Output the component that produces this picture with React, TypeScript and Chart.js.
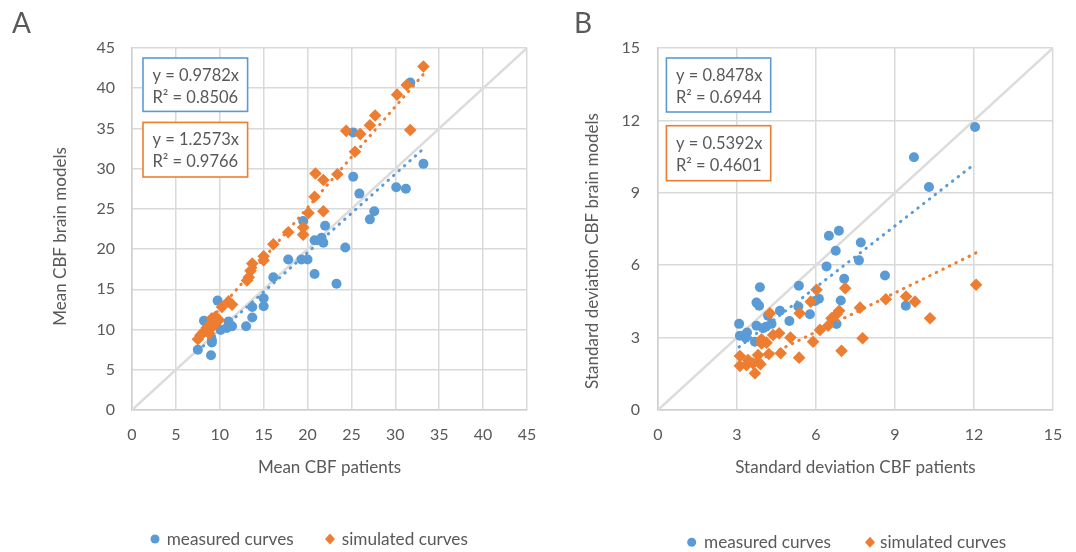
import React, { useEffect, useRef } from "react";
import { Chart, registerables } from "chart.js";

Chart.register(...registerables);

const FONT_FAMILY = "Lato, 'Open Sans', sans-serif";
const TEXT = "#595959";
const GRID = "#d9d9d9";
const AXIS = "#cfcfcf";
const BLUE = "#5b9bd5";
const ORANGE = "#ed7d31";

// ---------- Panel A: mean CBF ----------
const meanMeasuredX = [31.7, 25.2, 33.2, 25.2, 30.1, 31.2, 25.9, 27.6, 27.1, 22.0, 19.5, 20.8, 21.6, 21.8, 24.3, 17.8, 19.3, 20.0, 20.8, 23.3, 16.1, 15.0, 15.0, 13.7, 13.7, 13.0, 9.75, 11.4, 11.0, 10.1, 10.8, 8.2, 9.1, 9.1, 7.5, 9.0, 8.5, 9.6];
const meanMeasuredY = [40.7, 34.5, 30.6, 29.0, 27.7, 27.5, 26.9, 24.7, 23.7, 22.9, 23.5, 21.1, 21.4, 20.8, 20.2, 18.7, 18.7, 18.7, 16.9, 15.7, 16.5, 13.9, 12.9, 12.8, 11.5, 10.4, 13.6, 10.4, 11.0, 9.95, 10.2, 11.1, 8.7, 8.4, 7.5, 6.8, 10.2, 10.6];
const meanSimulatedX = [33.2, 31.3, 30.2, 31.7, 27.7, 27.1, 24.4, 26.0, 25.4, 23.4, 20.9, 21.8, 20.8, 20.1, 21.8, 19.5, 19.5, 17.8, 16.1, 15.0, 15.0, 13.7, 13.5, 13.3, 13.1, 11.4, 11.0, 10.25, 9.5, 9.9, 9.1, 8.9, 8.5, 8.15, 7.8, 7.5, 8.8, 9.2, 9.6];
const meanSimulatedY = [42.7, 40.4, 39.2, 34.8, 36.6, 35.4, 34.7, 34.3, 32.1, 29.3, 29.4, 28.6, 26.5, 24.5, 24.7, 22.7, 21.8, 22.1, 20.6, 19.1, 18.6, 18.2, 17.3, 16.5, 16.1, 13.1, 13.5, 12.8, 11.6, 11.2, 11.4, 10.7, 10.2, 9.7, 9.3, 8.8, 9.5, 10.4, 10.9];
const meanTicks = [0, 5, 10, 15, 20, 25, 30, 35, 40, 45];
const meanSlopeMeasured = 0.9782;
const meanR2Measured = 0.8506;
const meanSlopeSimulated = 1.2573;
const meanR2Simulated = 0.9766;

// ---------- Panel B: standard deviation CBF ----------
const sdMeasuredX = [12.04, 9.72, 10.29, 6.87, 6.49, 7.70, 6.75, 7.63, 6.40, 7.07, 8.62, 3.87, 5.35, 6.11, 5.96, 6.94, 3.74, 3.84, 5.33, 5.77, 4.63, 4.18, 9.41, 4.99, 4.31, 6.78, 3.08, 3.74, 3.99, 3.11, 3.38, 3.33, 3.68, 4.10];
const sdMeasuredY = [11.73, 10.47, 9.24, 7.43, 7.22, 6.94, 6.60, 6.20, 5.95, 5.44, 5.57, 5.09, 5.15, 4.61, 4.52, 4.54, 4.45, 4.32, 4.29, 3.97, 4.11, 3.91, 4.32, 3.69, 3.57, 3.56, 3.57, 3.49, 3.39, 3.08, 3.21, 3.00, 2.83, 3.45];
const sdSimulatedX = [12.08, 7.11, 6.02, 5.80, 8.65, 9.42, 9.76, 4.25, 5.38, 7.67, 6.88, 6.78, 6.59, 10.33, 6.46, 6.15, 4.60, 4.37, 5.03, 3.93, 4.12, 5.89, 7.77, 3.93, 6.97, 4.66, 4.21, 3.80, 3.11, 5.36, 3.42, 3.80, 3.61, 3.11, 3.36, 3.89, 3.68];
const sdSimulatedY = [5.19, 5.05, 4.98, 4.49, 4.59, 4.70, 4.49, 4.01, 4.01, 4.24, 4.11, 3.97, 3.80, 3.80, 3.49, 3.32, 3.18, 3.11, 3.00, 2.93, 2.79, 2.83, 2.97, 2.76, 2.45, 2.35, 2.32, 2.28, 2.24, 2.17, 2.07, 2.00, 1.93, 1.83, 1.86, 1.90, 1.52];
const sdTicks = [0, 3, 6, 9, 12, 15];
const sdSlopeMeasured = 0.8478;
const sdR2Measured = 0.6944;
const sdSlopeSimulated = 0.5392;
const sdR2Simulated = 0.4601;

const legendLabels = ["measured curves", "simulated curves"];

type PanelSpec = {
  letter: string;
  xs1: number[]; ys1: number[]; xs2: number[]; ys2: number[];
  ticks: number[];
  slope1: number; r21: number; slope2: number; r22: number;
  xTitle: string; yTitle: string;
  width: number;
  padding: { left: number; right: number; top: number; bottom: number };
  yAxisWidth: number; xAxisHeight: number; yTickPad: number;
  yTitleX: number; yTitleY: number;
  boxDx: number; boxW: number; box1Dy: number; box1H: number; box2Dy: number; box2H: number;
  letterX: number;
  legendY: number; legendX: number[];
};

const font = (size: number) => ({ family: FONT_FAMILY, size });

function pts(xs: number[], ys: number[]) {
  return xs.map((x, i) => ({ x, y: ys[i] }));
}

function trend(xs: number[], slope: number) {
  const lo = Math.min(...xs);
  const hi = Math.max(...xs);
  return [{ x: lo, y: lo * slope }, { x: hi, y: hi * slope }];
}

function buildConfig(p: PanelSpec): any {
  const max = p.ticks[p.ticks.length - 1];
  const step = p.ticks[1] - p.ticks[0];
  const extras = {
    id: "extras" + p.letter,
    afterDraw(chart: any) {
      const ctx = chart.ctx;
      const ca = chart.chartArea;
      ctx.save();
      // panel letter
      ctx.fillStyle = TEXT;
      ctx.font = `28px ${FONT_FAMILY}`;
      ctx.textBaseline = "alphabetic";
      ctx.textAlign = "left";
      ctx.fillText(p.letter, p.letterX, 33);
      // y axis title
      ctx.save();
      ctx.translate(p.yTitleX, p.yTitleY);
      ctx.rotate(-Math.PI / 2);
      ctx.font = `17px ${FONT_FAMILY}`;
      ctx.textAlign = "center";
      ctx.textBaseline = "middle";
      ctx.fillText(p.yTitle, 0, 0);
      ctx.restore();
      // annotation boxes
      const boxes = [
        { dy: p.box1Dy, h: p.box1H, color: BLUE, lines: [`y = ${p.slope1.toFixed(4)}x`, `R² = ${p.r21.toFixed(4)}`] },
        { dy: p.box2Dy, h: p.box2H, color: ORANGE, lines: [`y = ${p.slope2.toFixed(4)}x`, `R² = ${p.r22.toFixed(4)}`] },
      ];
      ctx.textAlign = "left";
      for (const b of boxes) {
        const bx = ca.left + p.boxDx;
        const by = ca.top + b.dy;
        ctx.fillStyle = "#ffffff";
        ctx.fillRect(bx, by, p.boxW, b.h);
        ctx.strokeStyle = b.color;
        ctx.lineWidth = 1.6;
        ctx.strokeRect(bx, by, p.boxW, b.h);
        ctx.fillStyle = TEXT;
        ctx.font = `16.5px ${FONT_FAMILY}`;
        ctx.textBaseline = "middle";
        ctx.fillText(b.lines[0], bx + 9.5, by + 17.5);
        ctx.fillText(b.lines[1], bx + 9.5, by + 39.5);
      }
      // legend
      const ly = p.legendY;
      ctx.fillStyle = BLUE;
      ctx.beginPath();
      ctx.arc(p.legendX[0], ly, 4.5, 0, Math.PI * 2);
      ctx.fill();
      ctx.fillStyle = ORANGE;
      ctx.beginPath();
      const dx = p.legendX[2];
      ctx.moveTo(dx, ly - 5.5);
      ctx.lineTo(dx + 5, ly);
      ctx.lineTo(dx, ly + 5.5);
      ctx.lineTo(dx - 5, ly);
      ctx.closePath();
      ctx.fill();
      ctx.fillStyle = TEXT;
      ctx.font = `17.2px ${FONT_FAMILY}`;
      ctx.textBaseline = "middle";
      ctx.fillText(legendLabels[0], p.legendX[1], ly);
      ctx.fillText(legendLabels[1], p.legendX[3], ly);
      ctx.restore();
    },
  };

  const axisCommon = {
    type: "linear",
    min: 0,
    max,
    grid: { color: GRID, lineWidth: 1.5, drawTicks: false },
    border: { color: AXIS, width: 1.5 },
  };

  return {
    type: "scatter",
    data: {
      datasets: [
        {
          label: "identity",
          type: "line",
          data: [{ x: 0, y: 0 }, { x: max, y: max }],
          borderColor: "#dcdcdc",
          borderWidth: 2.5,
          pointRadius: 0,
          order: 10,
        },
        {
          label: legendLabels[0],
          data: pts(p.xs1, p.ys1),
          pointStyle: "circle",
          pointRadius: 5,
          backgroundColor: BLUE,
          borderColor: BLUE,
          borderWidth: 0,
          order: 5,
        },
        {
          label: legendLabels[1],
          data: pts(p.xs2, p.ys2),
          pointStyle: "rectRot",
          pointRadius: 6.3,
          backgroundColor: ORANGE,
          borderColor: ORANGE,
          borderWidth: 0,
          order: 4,
        },
        {
          label: "trend measured",
          type: "line",
          data: trend(p.xs1, p.slope1),
          borderColor: BLUE,
          borderWidth: 3,
          borderDash: [0.5, 6.8],
          borderCapStyle: "round",
          pointRadius: 0,
          order: 1,
        },
        {
          label: "trend simulated",
          type: "line",
          data: trend(p.xs2, p.slope2),
          borderColor: ORANGE,
          borderWidth: 3,
          borderDash: [0.5, 6.8],
          borderCapStyle: "round",
          pointRadius: 0,
          order: 1,
        },
      ],
    },
    options: {
      responsive: false,
      animation: false,
      events: [],
      layout: { padding: p.padding },
      plugins: { legend: { display: false }, tooltip: { enabled: false }, title: { display: false } },
      scales: {
        x: {
          ...axisCommon,
          position: "bottom",
          ticks: { stepSize: step, padding: 15.5, color: TEXT, font: font(16), maxRotation: 0 },
          title: { display: true, text: p.xTitle, color: TEXT, font: font(17), padding: 0 },
          afterFit: (s: any) => { s.height = p.xAxisHeight; },
        },
        y: {
          ...axisCommon,
          position: "left",
          ticks: { stepSize: step, padding: p.yTickPad, color: TEXT, font: font(16) },
          title: { display: false },
          afterFit: (s: any) => { s.width = p.yAxisWidth; },
        },
      },
    },
    plugins: [extras],
  };
}

const panelA: PanelSpec = {
  letter: "A",
  xs1: meanMeasuredX, ys1: meanMeasuredY, xs2: meanSimulatedX, ys2: meanSimulatedY,
  ticks: meanTicks,
  slope1: meanSlopeMeasured, r21: meanR2Measured, slope2: meanSlopeSimulated, r22: meanR2Simulated,
  xTitle: "Mean CBF patients", yTitle: "Mean CBF brain models",
  width: 570,
  padding: { left: 51, right: 43, top: 48, bottom: 74 },
  yAxisWidth: 81, xAxisHeight: 68, yTickPad: 17,
  yTitleX: 60.7, yTitleY: 236.5,
  boxDx: 11, boxW: 104.6, box1Dy: 10, box1H: 53.4, box2Dy: 74.4, box2H: 54.6,
  letterX: 12,
  legendY: 539, legendX: [155, 166.7, 330, 341.7],
};

const panelB: PanelSpec = {
  letter: "B",
  xs1: sdMeasuredX, ys1: sdMeasuredY, xs2: sdSimulatedX, ys2: sdSimulatedY,
  ticks: sdTicks,
  slope1: sdSlopeMeasured, r21: sdR2Measured, slope2: sdSlopeSimulated, r22: sdR2Simulated,
  xTitle: "Standard deviation CBF patients", yTitle: "Standard deviation CBF brain models",
  width: 560,
  padding: { left: 43, right: 47, top: 48, bottom: 74 },
  yAxisWidth: 75, xAxisHeight: 68, yTickPad: 18,
  yTitleX: 52.7, yTitleY: 251,
  boxDx: 8.4, boxW: 104.3, box1Dy: 10, box1H: 54, box2Dy: 77.7, box2H: 55,
  letterX: 34,
  legendY: 542.3, legendX: [151.7, 164, 330, 340],
};

function Panel({ spec, left }: { spec: PanelSpec; left: number }) {
  const ref = useRef<HTMLCanvasElement | null>(null);
  useEffect(() => {
    if (!ref.current) return;
    const chart = new Chart(ref.current, buildConfig(spec));
    return () => chart.destroy();
  }, [spec]);
  return (
    <canvas
      ref={ref}
      width={spec.width}
      height={552}
      style={{ position: "absolute", left, top: 0, width: spec.width, height: 552 }}
    />
  );
}

export default function App() {
  return (
    <div style={{ position: "absolute", left: 0, top: 0, width: 1076, height: 552, overflow: "hidden", background: "#ffffff" }}>
      <Panel spec={panelA} left={0} />
      <Panel spec={panelB} left={540} />
    </div>
  );
}
